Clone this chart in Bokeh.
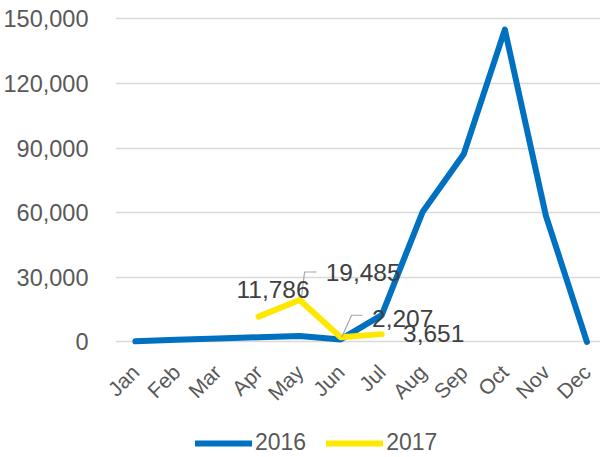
import math
from bokeh.plotting import figure
from bokeh.layouts import column
from bokeh.models import (Range1d, FixedTicker, NumeralTickFormatter, Legend, LegendItem,
                          ColumnDataSource)
from bokeh.core.properties import value
from bokeh.embed import file_html
from bokeh.resources import INLINE

months = ["Jan", "Feb", "Mar", "Apr", "May", "Jun", "Jul", "Aug", "Sep", "Oct", "Nov", "Dec"]
series_2016 = [300, 1000, 1600, 2200, 2800, 1200, 12500, 60500, 87300, 145000, 58600, 0]
months_2017 = ["Apr", "May", "Jun", "Jul"]
series_2017 = [11786, 19485, 2207, 3651]
y_ticks = [0, 30000, 60000, 90000, 120000, 150000]

FONT = "Liberation Sans"
TXT = "#595959"
BLUE = "#0070C0"
YELLOW = "#FFE800"

x0, x1 = -0.485, 11.33
y0, y1 = -3945, 152924
W, H = 603, 420
BL, BR, BT, BB = 113, 3, 12, 70
frame_w = W - BL - BR
frame_h = H - BT - BB
sx = frame_w / (x1 - x0)
sy = frame_h / (y1 - y0)

p = figure(width=W, height=H, output_backend="svg", toolbar_location=None,
           x_range=Range1d(x0, x1), y_range=Range1d(y0, y1),
           min_border_left=BL, min_border_right=BR, min_border_top=BT, min_border_bottom=BB)
p.outline_line_color = None
p.xgrid.grid_line_color = None
p.ygrid.grid_line_color = "#D9D9D9"
p.ygrid.grid_line_width = 1.3
p.ygrid.ticker = FixedTicker(ticks=y_ticks)

p.yaxis.ticker = FixedTicker(ticks=y_ticks)
p.yaxis.formatter = NumeralTickFormatter(format="0,0")
p.yaxis.axis_line_color = None
p.yaxis.major_tick_line_color = None
p.yaxis.minor_tick_line_color = None
p.yaxis.major_label_standoff = 21
p.yaxis.major_label_text_font = FONT
p.yaxis.major_label_text_font_size = "23.5px"
p.yaxis.major_label_text_color = TXT

xi = list(range(len(months)))
p.xaxis.ticker = FixedTicker(ticks=xi)
p.xaxis.major_label_overrides = {i: m for i, m in enumerate(months)}
p.xaxis.axis_line_color = None
p.xaxis.major_tick_line_color = None
p.xaxis.minor_tick_line_color = None
p.xaxis.major_label_orientation = math.pi / 4
p.xaxis.major_label_standoff = 12
p.xaxis.major_label_text_font = FONT
p.xaxis.major_label_text_font_size = "21px"
p.xaxis.major_label_text_color = TXT

r16 = p.line(xi, series_2016, line_color=BLUE, line_width=6, line_cap="round", line_join="round")
x17 = [months.index(m) for m in months_2017]
r17 = p.line(x17, series_2017, line_color=YELLOW, line_width=6, line_cap="round", line_join="round")

# leader lines (pixel offsets from data points converted to data units)
def leader(i, pts):
    xs = [x17[i] + dx / sx for dx, dy in pts]
    ys = [series_2017[i] - dy / sy for dx, dy in pts]
    p.line(xs, ys, line_color="#A6A6A6", line_width=1.2)

leader(1, [(2, -4), (5, -28), (17, -28)])
leader(2, [(1, 0), (11, -22), (22, -22)])

labels = [f"{v:,}" for v in series_2017]
offs_x = [14.5, 63.5, 62, 52]
offs_y = [-27, -28, -19, -1]
src = ColumnDataSource(dict(x=x17, y=series_2017, t=labels, ox=offs_x, oy=offs_y))
p.text("x", "y", text="t", x_offset="ox", y_offset="oy", source=src,
       text_font=value(FONT), text_font_size="24.5px", text_color="#404040",
       text_align="center", text_baseline="middle")

# legend strip below the chart
lg = figure(width=W, height=457 - H, output_backend="svg", toolbar_location=None,
            x_axis_type=None, y_axis_type=None, x_range=Range1d(0, 1), y_range=Range1d(0, 1),
            min_border=0)
lg.outline_line_color = None
lg.xgrid.grid_line_color = None
lg.ygrid.grid_line_color = None
nan = float("nan")
d16 = lg.line([nan], [nan], line_color=BLUE, line_width=6, line_cap="round")
d17 = lg.line([nan], [nan], line_color=YELLOW, line_width=6, line_cap="round")
legend = Legend(items=[LegendItem(label="2016", renderers=[d16]),
                       LegendItem(label="2017", renderers=[d17])],
                location=(80, 1), orientation="horizontal",
                glyph_width=57, glyph_height=24, label_standoff=3, spacing=20,
                padding=0, margin=0, border_line_alpha=0, background_fill_alpha=0,
                label_text_font=FONT, label_text_font_size="23px", label_text_color=TXT)
lg.add_layout(legend, "center")

open("out.html", "w").write(file_html(column(p, lg), INLINE))
